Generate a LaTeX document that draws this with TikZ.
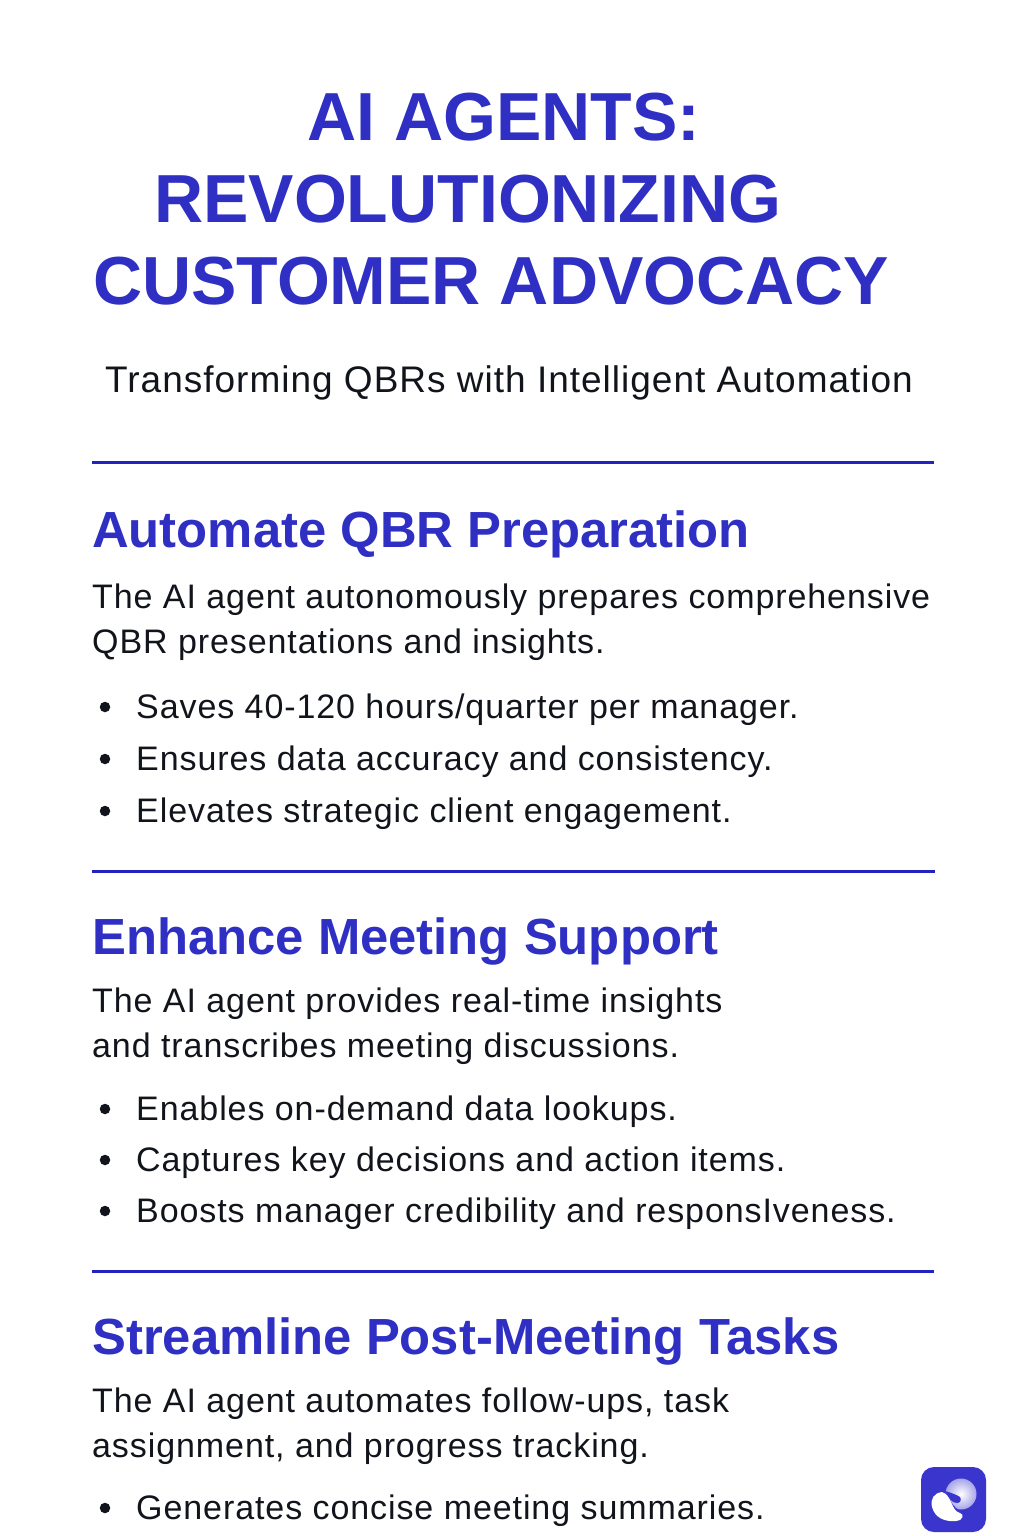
\documentclass[tikz,border=0pt]{standalone}
\usepackage{fontspec}
\setmainfont{Liberation Sans}
\newfontfamily\spacedfont[LetterSpace=2.7]{Liberation Sans}
\definecolor{titleblue}{HTML}{2F2FC4}
\definecolor{ruleblue}{HTML}{2222BE}
\definecolor{bodyink}{HTML}{12141C}
\definecolor{logoblue}{HTML}{3A35CC}
\tikzset{
  titleline/.style={anchor=base west, inner sep=0pt, text=titleblue, font=\fontsize{68}{68}\selectfont\bfseries},
  subline/.style={anchor=base west, inner sep=0pt, text=bodyink, font=\spacedfont\fontsize{37}{37}\selectfont},
  headline/.style={anchor=base west, inner sep=0pt, text=titleblue, font=\fontsize{50.8}{50.8}\selectfont\bfseries},
  bodyline/.style={anchor=base west, inner sep=0pt, text=bodyink, font=\spacedfont\fontsize{34}{34}\selectfont},
  sectionrule/.style={ruleblue, line width=3pt},
  dotmark/.style={circle, fill=bodyink, inner sep=0pt, minimum size=10.5pt}
}
\begin{document}
\begin{tikzpicture}[x=1pt,y=-1pt]
    % Page size, one unit per pixel of the reference
    \useasboundingbox (0,0) rectangle (1024,1536);
    \fill[white] (0,0) rectangle (1024,1536);

    % Title block
    \node[titleline] (titleA) at (307,140) {AI AGENTS:};
    \node[titleline] (titleB) at (154,222) {REVOLUTIONIZING};
    \node[titleline] (titleC) at (93,304) {CUSTOMER ADVOCACY};
    \node[subline] (subtitle) at (105,392) {Transforming QBRs with Intelligent Automation};

    % First section
    \draw[sectionrule] (92,462) -- (934,462);
    \node[headline] (headA) at (92,547) {Automate QBR Preparation};
    \node[bodyline] (bodyAa) at (92,608) {The AI agent autonomously prepares comprehensive};
    \node[bodyline] (bodyAb) at (92,653) {QBR presentations and insights.};
    \node[dotmark] (dotAa) at (105,707) {};
    \node[bodyline] (itemAa) at (136,718) {Saves 40-120 hours/quarter per manager.};
    \node[dotmark] (dotAb) at (105,759) {};
    \node[bodyline] (itemAb) at (136,770) {Ensures data accuracy and consistency.};
    \node[dotmark] (dotAc) at (105,811) {};
    \node[bodyline] (itemAc) at (136,822) {Elevates strategic client engagement.};

    % Second section
    \draw[sectionrule] (92,871) -- (935,871);
    \node[headline] (headB) at (92,954) {Enhance Meeting Support};
    \node[bodyline] (bodyBa) at (92,1012) {The AI agent provides real-time insights};
    \node[bodyline] (bodyBb) at (92,1057) {and transcribes meeting discussions.};
    \node[dotmark] (dotBa) at (105,1109) {};
    \node[bodyline] (itemBa) at (136,1120) {Enables on-demand data lookups.};
    \node[dotmark] (dotBb) at (105,1160) {};
    \node[bodyline] (itemBb) at (136,1171) {Captures key decisions and action items.};
    \node[dotmark] (dotBc) at (105,1211) {};
    \node[bodyline] (itemBc) at (136,1222) {Boosts manager credibility and responsIveness.};

    % Third section
    \draw[sectionrule] (92,1271) -- (934,1271);
    \node[headline] (headC) at (92,1354) {Streamline Post-Meeting Tasks};
    \node[bodyline] (bodyCa) at (92,1412) {The AI agent automates follow-ups, task};
    \node[bodyline] (bodyCb) at (92,1457) {assignment, and progress tracking.};
    \node[dotmark] (dotCa) at (105,1508) {};
    \node[bodyline] (itemCa) at (136,1519) {Generates concise meeting summaries.};

    % Logo in the corner
    \fill[logoblue, rounded corners=13pt] (921,1467) rectangle (986,1532);
    \shade[inner color=white, outer color=logoblue!45!white] (961,1494) circle (15.5);
    \fill[logoblue] (945,1491) .. controls (952,1493) and (957,1495) .. (960,1497)
        .. controls (962,1500) and (960,1503) .. (957,1503)
        .. controls (952,1503) and (948,1498) .. (945,1491) -- cycle;
    % blue gap between ball and blob
    \fill[logoblue] (942,1490) .. controls (950,1494) and (950,1509) .. (964,1512)
        -- (950,1522) -- (932,1500) -- cycle;
    \fill[white] (942,1492) .. controls (934,1493) and (930,1499) .. (932,1507)
        .. controls (935,1518) and (945,1522) .. (956,1521)
        .. controls (964,1520) and (964,1514) .. (960,1513)
        .. controls (951,1511) and (952,1495) .. (942,1492) -- cycle;
  \end{tikzpicture}
\end{document}
